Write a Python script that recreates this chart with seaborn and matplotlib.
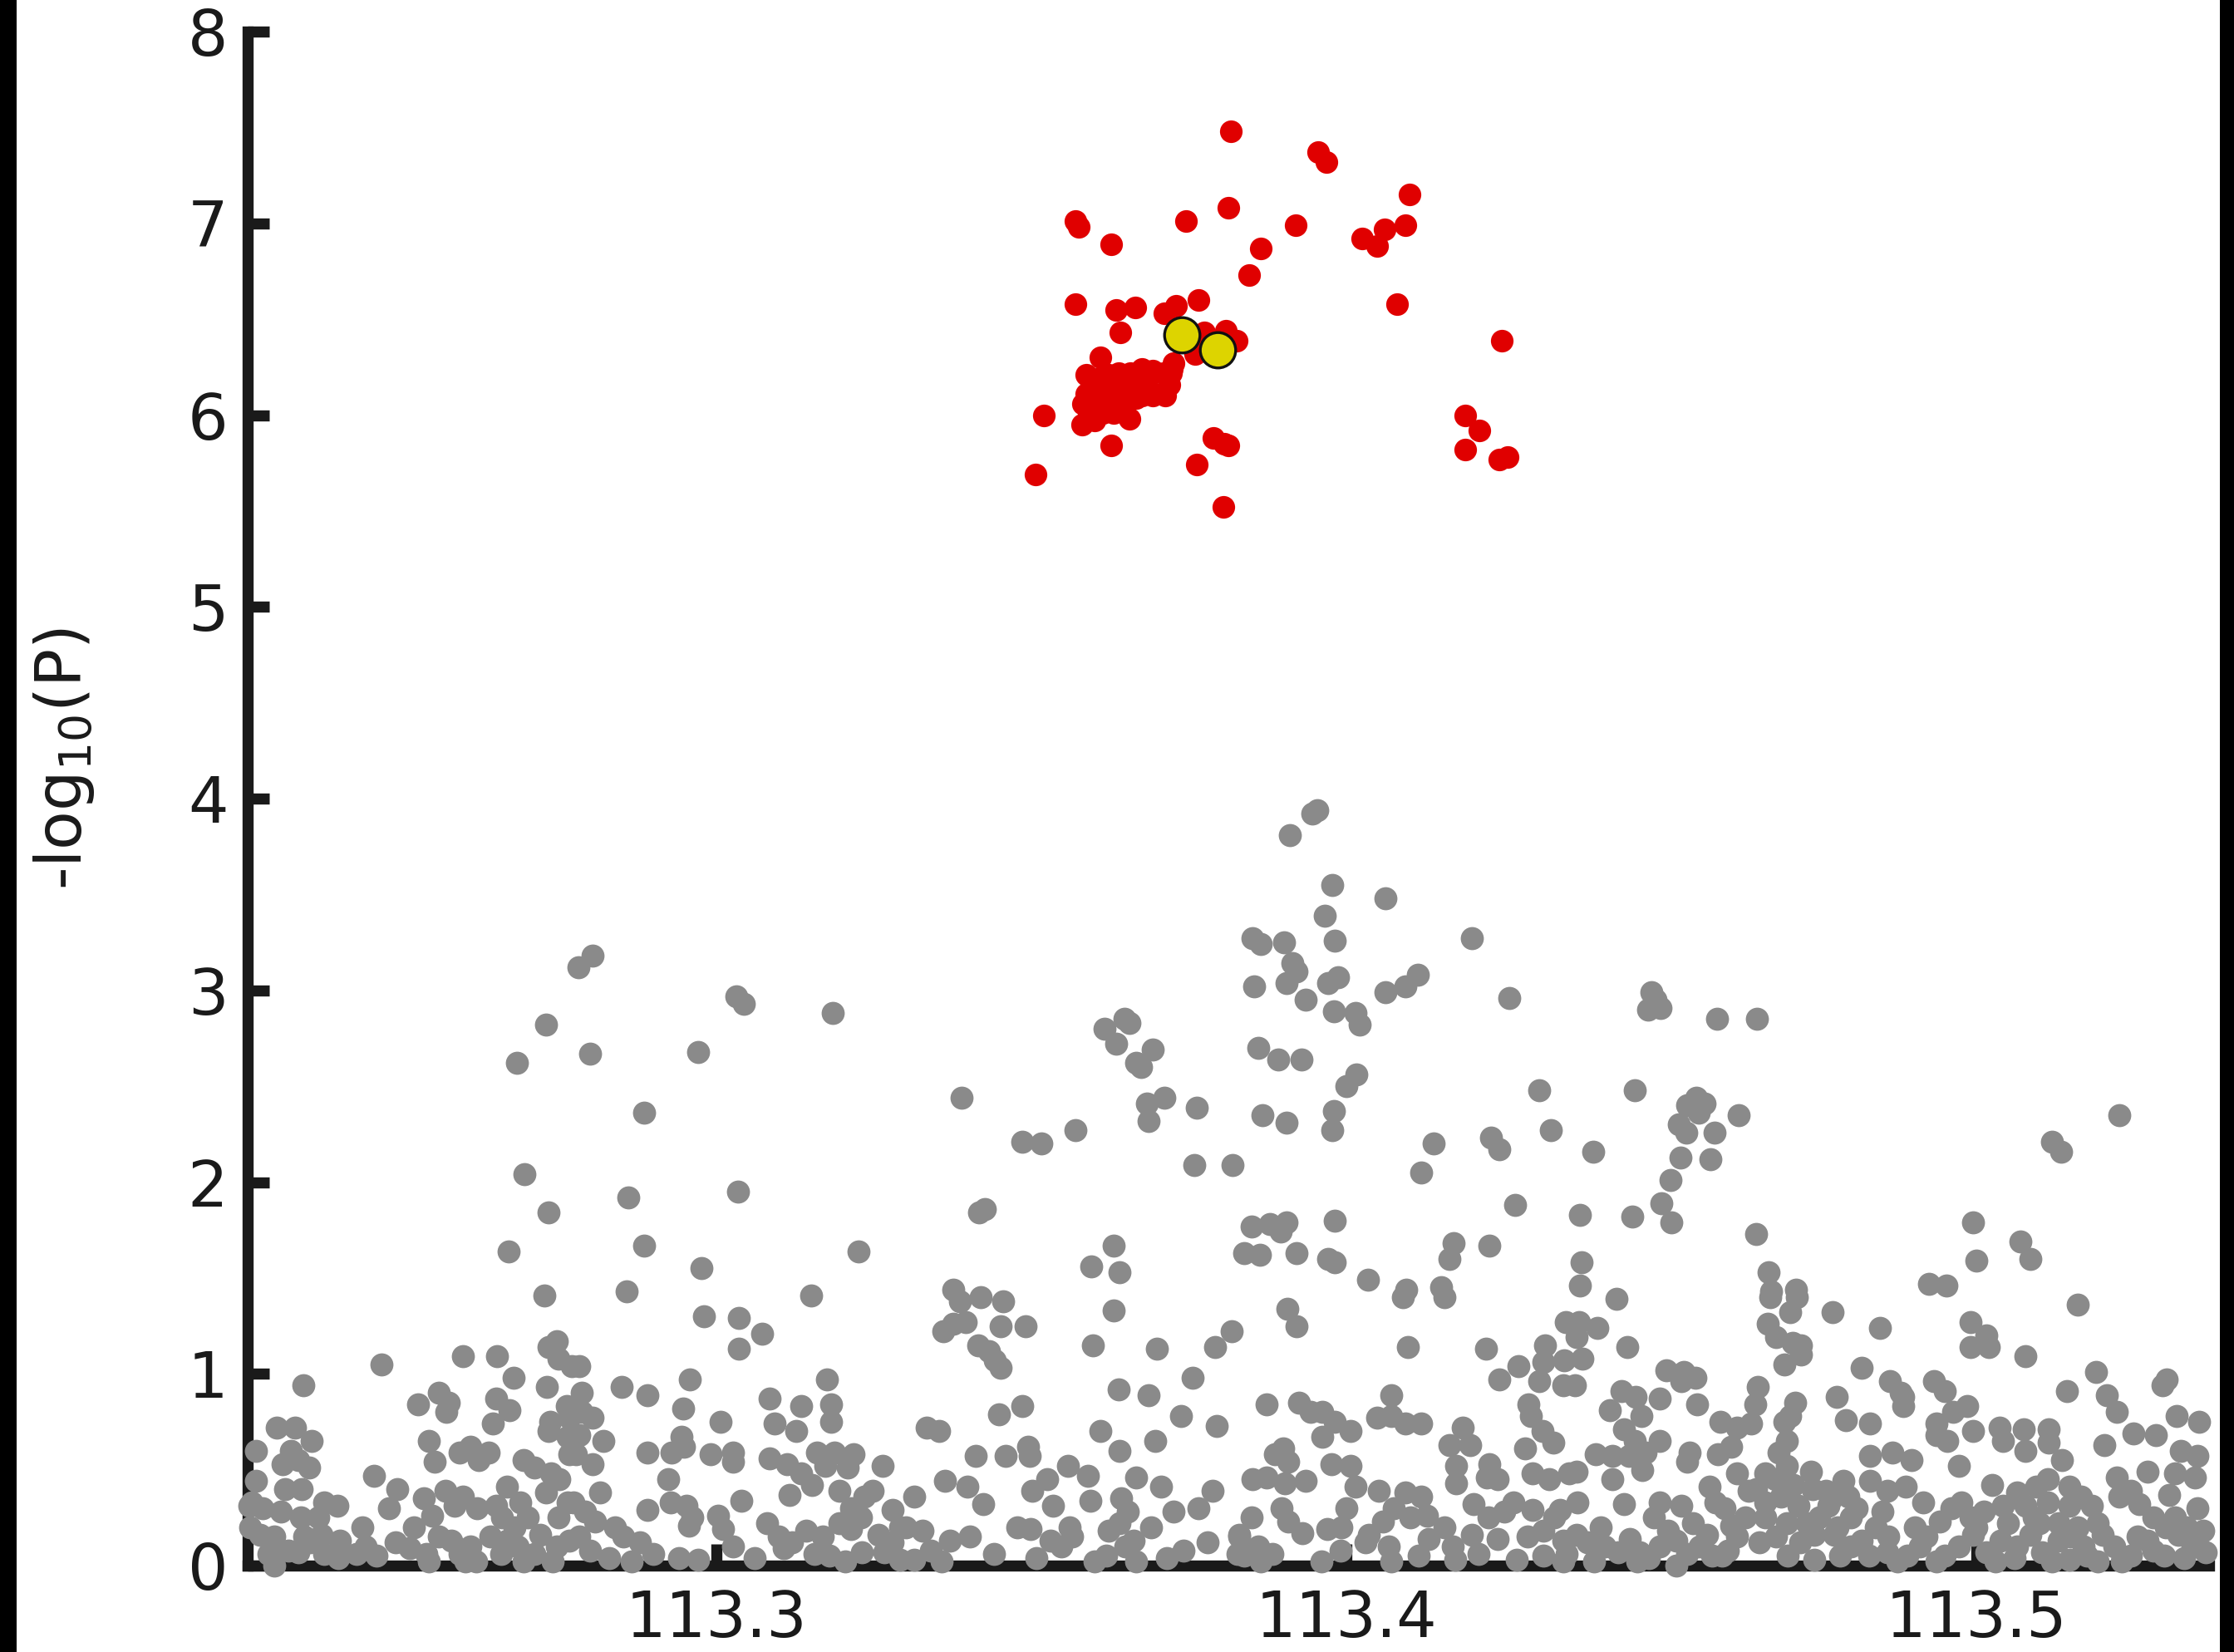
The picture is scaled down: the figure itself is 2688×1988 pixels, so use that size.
import matplotlib
matplotlib.use("Agg")
import matplotlib.pyplot as plt
import seaborn as sns
import pandas as pd
from matplotlib.patches import Rectangle

# ---------------- data: (position in Mb, -log10 P) ----------------
gray_high = [
    (113.2684, 2.62), (113.2695, 2.04), (113.2670, 1.64), (113.2727, 1.41), (113.2734, 1.84),
    (113.2729, 2.82), (113.2781, 3.12), (113.2804, 3.18), (113.2799, 2.67), (113.2885, 2.36),
    (113.2860, 1.92), (113.2885, 1.67), (113.2858, 1.43), (113.2971, 2.68), (113.3032, 2.97),
    (113.3043, 2.93), (113.3034, 1.95), (113.2976, 1.55), (113.3184, 2.88), (113.3225, 1.64),
    (113.3150, 1.41), (113.3389, 2.44), (113.3417, 1.84), (113.3426, 1.86), (113.3376, 1.44),
    (113.3485, 2.21), (113.3516, 2.20), (113.3570, 2.27), (113.3616, 2.80), (113.3647, 2.85),
    (113.3656, 2.83), (113.3634, 2.72), (113.3666, 2.62), (113.3693, 2.69), (113.3674, 2.60),
    (113.3683, 2.41), (113.3711, 2.44), (113.3763, 2.39), (113.3686, 2.32), (113.3595, 1.56),
    (113.3631, 1.67), (113.3640, 1.53), (113.3758, 2.09), (113.3819, 2.09), (113.3837, 1.63),
    (113.3862, 1.62), (113.3849, 1.77), (113.3878, 1.78), (113.3896, 1.74), (113.3905, 1.79),
    (113.3921, 1.63), (113.3851, 3.27), (113.3864, 3.24), (113.3901, 3.25), (113.3914, 3.14),
    (113.3921, 3.10), (113.3905, 3.04), (113.3853, 3.02), (113.3860, 2.70), (113.3892, 2.64),
    (113.3928, 2.64), (113.3867, 2.35), (113.3905, 2.31), (113.3946, 3.92), (113.3953, 3.94),
    (113.3910, 3.81), (113.3977, 3.55), (113.3966, 3.39), (113.3982, 3.26), (113.3987, 3.07),
    (113.3980, 2.89), (113.3935, 2.95), (113.4014, 2.88), (113.4021, 2.82), (113.3971, 3.04),
    (113.4000, 2.50), (113.4016, 2.56), (113.3980, 2.37), (113.3977, 2.27), (113.3982, 1.80),
    (113.3971, 1.60), (113.3982, 1.58), (113.4034, 1.49), (113.4118, 2.05), (113.4062, 3.48),
    (113.4062, 2.99), (113.4093, 3.02), (113.4113, 3.08), (113.4199, 3.27), (113.4258, 2.96),
    (113.4138, 2.20), (113.4163, 1.60), (113.4170, 1.68), (113.4150, 1.45), (113.4095, 1.44),
    (113.4229, 2.23), (113.4242, 2.17), (113.4267, 1.88), (113.4227, 1.67), (113.4306, 2.48),
    (113.4324, 2.27), (113.4391, 2.16), (113.4371, 1.83), (113.4373, 1.58), (113.4371, 1.46),
    (113.4457, 2.48), (113.4484, 2.99), (113.4491, 2.95), (113.4478, 2.90), (113.4498, 2.91),
    (113.4453, 1.82), (113.4516, 1.79), (113.4500, 1.89), (113.4514, 2.01), (113.4530, 2.13),
    (113.4539, 2.26), (113.4541, 2.40), (113.4555, 2.44), (113.4559, 2.36), (113.4527, 2.30),
    (113.4568, 2.41), (113.4577, 2.12), (113.4588, 2.85), (113.4652, 2.85), (113.4622, 2.35),
    (113.4584, 2.26), (113.4650, 1.73), (113.4670, 1.53), (113.4674, 1.43), (113.4713, 1.44),
    (113.4925, 1.47), (113.4952, 1.46), (113.4995, 1.79), (113.5000, 1.59), (113.5070, 1.69),
    (113.5086, 1.60), (113.5120, 2.21), (113.5134, 2.16), (113.5226, 2.35),
]

gray_band_a = [
    (113.2747, 1.17), (113.2733, 1.14), (113.2749, 1.08), (113.2771, 1.04), (113.2597, 1.09),
    (113.2652, 1.09), (113.2469, 1.05), (113.2345, 0.94), (113.2678, 0.98), (113.2731, 0.93),
    (113.2527, 0.84), (113.2560, 0.90), (113.2575, 0.85), (113.2571, 0.80), (113.2650, 0.87),
    (113.2672, 0.81), (113.2645, 0.74), (113.2736, 0.75), (113.2733, 0.70), (113.2762, 0.83),
    (113.2766, 0.77), (113.2764, 0.67), (113.2766, 0.58), (113.2302, 0.72), (113.2331, 0.72),
    (113.2357, 0.65), (113.2269, 0.60), (113.2324, 0.60), (113.2311, 0.53), (113.2337, 0.55),
    (113.2353, 0.51), (113.2544, 0.65), (113.2553, 0.54), (113.2593, 0.59), (113.2610, 0.62),
    (113.2623, 0.55), (113.2639, 0.59), (113.2456, 0.47), (113.2494, 0.40), (113.2269, 0.44),
    (113.2263, 0.33), (113.2258, 0.31), (113.2315, 0.40), (113.2342, 0.40), (113.2377, 0.33),
    (113.2399, 0.31), (113.2309, 0.28), (113.2535, 0.35), (113.2570, 0.39), (113.2597, 0.36),
    (113.2584, 0.31), (113.2549, 0.26), (113.2694, 0.55), (113.2711, 0.51), (113.2738, 0.48),
    (113.2751, 0.45), (113.2729, 0.38), (113.2667, 0.41), (113.2689, 0.33), (113.2650, 0.31),
    (113.2659, 0.25), (113.2749, 0.25), (113.2764, 0.33), (113.2368, 0.25), (113.2373, 0.16),
    (113.2355, 0.12), (113.2377, 0.06), (113.2276, 0.16), (113.2298, 0.15), (113.2289, 0.06),
    (113.2298, 0.00), (113.2403, 0.13), (113.2438, 0.20), (113.2443, 0.10), (113.2429, 0.06),
    (113.2491, 0.12), (113.2513, 0.09), (113.2540, 0.06), (113.2544, 0.02), (113.2579, 0.13),
    (113.2592, 0.06), (113.2601, 0.02), (113.2619, 0.02), (113.2610, 0.10), (113.2641, 0.15),
    (113.2658, 0.06), (113.2667, 0.13), (113.2685, 0.10), (113.2694, 0.02), (113.2720, 0.16),
    (113.2711, 0.06), (113.2747, 0.10), (113.2766, 0.13), (113.2346, 0.15), (113.2337, 0.07),
]

gray_band_b = [
    (113.2980, 1.30), (113.3035, 1.29), (113.3072, 1.21), (113.3036, 1.13), (113.2782, 1.04),
    (113.2850, 0.93), (113.2890, 0.89), (113.2958, 0.97), (113.2947, 0.82), (113.3006, 0.75),
    (113.3085, 0.87), (113.3134, 0.83), (113.3092, 0.74), (113.3127, 0.70), (113.3176, 0.97),
    (113.3182, 0.84), (113.3182, 0.75), (113.2786, 0.90), (113.2786, 0.80), (113.2804, 0.77),
    (113.2782, 0.68), (113.2777, 0.58), (113.2821, 0.65), (113.2804, 0.53), (113.2890, 0.59),
    (113.2945, 0.67), (113.2949, 0.62), (113.2929, 0.59), (113.2991, 0.58), (113.3026, 0.59),
    (113.3026, 0.54), (113.3085, 0.56), (113.3112, 0.53), (113.3134, 0.48), (113.3151, 0.42),
    (113.3116, 0.37), (113.3160, 0.59), (113.3187, 0.59), (113.3217, 0.58), (113.3173, 0.52),
    (113.3208, 0.51), (113.3264, 0.52), (113.2815, 0.38), (113.2923, 0.45), (113.2927, 0.33),
    (113.2953, 0.31), (113.2962, 0.25), (113.2956, 0.21), (113.2890, 0.29), (113.3039, 0.34),
    (113.2773, 0.33), (113.2791, 0.28), (113.2808, 0.23), (113.2782, 0.15), (113.2839, 0.20),
    (113.2852, 0.15), (113.2879, 0.12), (113.2830, 0.04), (113.2865, 0.02), (113.2940, 0.04),
    (113.2971, 0.03), (113.3002, 0.26), (113.3011, 0.19), (113.3026, 0.10), (113.3081, 0.22),
    (113.3099, 0.15), (113.3107, 0.09), (113.3143, 0.18), (113.3156, 0.06), (113.3169, 0.15),
    (113.3195, 0.39), (113.3213, 0.30), (113.3195, 0.22), (113.3213, 0.19), (113.3235, 0.36),
    (113.3248, 0.39), (113.3279, 0.29), (113.3257, 0.16), (113.3292, 0.20), (113.3204, 0.02),
    (113.3231, 0.07), (113.3266, 0.07), (113.3292, 0.03),
]

gray_band_c = [
    (113.3387, 1.38), (113.3420, 1.40), (113.3455, 1.38), (113.3360, 1.22), (113.3376, 1.26),
    (113.3396, 1.27), (113.3451, 1.25), (113.3490, 1.25), (113.3415, 1.15), (113.3433, 1.12),
    (113.3442, 1.07), (113.3451, 1.03), (113.3631, 1.33), (113.3598, 1.15), (113.3699, 1.13),
    (113.3792, 1.14), (113.3818, 1.22), (113.3756, 0.98), (113.3638, 0.92), (113.3686, 0.89),
    (113.3737, 0.78), (113.3794, 0.73), (113.3448, 0.79), (113.3486, 0.83), (113.3334, 0.72),
    (113.3354, 0.70), (113.3609, 0.70), (113.3697, 0.65), (113.3640, 0.60), (113.3411, 0.57),
    (113.3459, 0.57), (113.3495, 0.62), (113.3497, 0.57), (113.3558, 0.52), (113.3589, 0.47),
    (113.3666, 0.46), (113.3706, 0.41), (113.3787, 0.39), (113.3363, 0.44), (113.3398, 0.41),
    (113.3424, 0.32), (113.3314, 0.36), (113.3501, 0.39), (113.3525, 0.45), (113.3534, 0.31),
    (113.3594, 0.34), (113.3642, 0.35), (113.3653, 0.28), (113.3726, 0.28), (113.3765, 0.30),
    (113.3402, 0.15), (113.3371, 0.13), (113.3358, 0.02), (113.3314, 0.03), (113.3327, 0.18),
    (113.3301, 0.20), (113.3477, 0.20), (113.3499, 0.19), (113.3530, 0.13), (113.3547, 0.10),
    (113.3508, 0.04), (113.3561, 0.20), (113.3565, 0.15), (113.3622, 0.18), (113.3640, 0.22),
    (113.3618, 0.05), (113.3649, 0.10), (113.3666, 0.02), (113.3662, 0.13), (113.3715, 0.04),
    (113.3741, 0.08), (113.3829, 0.16), (113.3827, 0.06),
]

gray_band_d = [
    (113.3906, 1.34), (113.3921, 1.25), (113.4089, 1.40), (113.4155, 1.40), (113.4097, 1.14),
    (113.4221, 1.13), (113.4243, 0.97), (113.4273, 1.04), (113.4315, 1.15), (113.4313, 1.06),
    (113.4306, 0.96), (113.4348, 1.27), (113.4346, 1.07), (113.4344, 0.94), (113.3873, 0.84),
    (113.3924, 0.85), (113.3943, 0.80), (113.3961, 0.80), (113.3981, 0.75), (113.3961, 0.67),
    (113.4007, 0.70), (113.4071, 0.89), (113.4049, 0.77), (113.4071, 0.78), (113.4093, 0.74),
    (113.4119, 0.74), (113.4185, 0.72), (113.4163, 0.63), (113.4196, 0.63), (113.4289, 0.84),
    (113.4293, 0.78), (113.4311, 0.70), (113.4328, 0.64), (113.4284, 0.61), (113.3899, 0.61),
    (113.3886, 0.58), (113.3908, 0.54), (113.3851, 0.45), (113.3873, 0.46), (113.3902, 0.43),
    (113.3935, 0.44), (113.3976, 0.53), (113.4007, 0.52), (113.4014, 0.41), (113.4051, 0.39),
    (113.4174, 0.52), (113.4174, 0.43), (113.4227, 0.53), (113.4223, 0.46), (113.4240, 0.45),
    (113.4295, 0.48), (113.4322, 0.45), (113.4353, 0.48), (113.4339, 0.29), (113.4093, 0.38),
    (113.4119, 0.36), (113.4128, 0.26), (113.4102, 0.25), (113.4075, 0.30), (113.3897, 0.30),
    (113.3908, 0.23), (113.3930, 0.17), (113.3849, 0.25), (113.3970, 0.19), (113.3992, 0.20),
    (113.3990, 0.08), (113.4036, 0.16), (113.4058, 0.23), (113.4067, 0.10), (113.4071, 0.02),
    (113.4115, 0.05), (113.4155, 0.20), (113.4168, 0.10), (113.4172, 0.03), (113.4201, 0.32),
    (113.4199, 0.16), (113.4225, 0.25), (113.4251, 0.28), (113.4265, 0.33), (113.4295, 0.29),
    (113.4287, 0.15), (113.4313, 0.18), (113.4313, 0.05), (113.4344, 0.13), (113.4344, 0.02),
    (113.3864, 0.02), (113.3838, 0.05), (113.3882, 0.06), (113.3829, 0.15),
]

gray_band_e = [
    (113.4429, 1.39), (113.4673, 1.40), (113.4715, 1.40), (113.4369, 1.27), (113.4398, 1.24),
    (113.4365, 1.19), (113.4446, 1.14), (113.4704, 1.32), (113.4668, 1.26), (113.4682, 1.19),
    (113.4708, 1.16), (113.4721, 1.15), (113.4721, 1.10), (113.4695, 1.05), (113.4772, 1.32),
    (113.4847, 1.24), (113.4818, 1.03), (113.4862, 0.96), (113.4880, 0.90), (113.4374, 1.08),
    (113.4363, 0.94), (113.4508, 1.02), (113.4536, 1.01), (113.4554, 0.98), (113.4532, 0.96),
    (113.4437, 0.91), (113.4459, 0.88), (113.4497, 0.87), (113.4468, 0.78), (113.4418, 0.81),
    (113.4556, 0.84), (113.4653, 0.93), (113.4649, 0.84), (113.4712, 0.85), (113.4704, 0.78),
    (113.4778, 0.88), (113.4792, 0.76), (113.4831, 0.74), (113.4440, 0.71), (113.4457, 0.65),
    (113.4497, 0.65), (113.4475, 0.59), (113.4396, 0.58), (113.4422, 0.57), (113.4448, 0.57),
    (113.4470, 0.50), (113.4365, 0.49), (113.4422, 0.45), (113.4440, 0.32), (113.4367, 0.33),
    (113.4545, 0.59), (113.4541, 0.54), (113.4594, 0.75), (113.4620, 0.72), (113.4642, 0.74),
    (113.4589, 0.58), (113.4611, 0.62), (113.4695, 0.75), (113.4699, 0.65), (113.4686, 0.59),
    (113.4699, 0.52), (113.4664, 0.48), (113.4620, 0.48), (113.4638, 0.39), (113.4664, 0.33),
    (113.4690, 0.36), (113.4737, 0.49), (113.4761, 0.39), (113.4789, 0.44), (113.4831, 0.57),
    (113.4866, 0.59), (113.4831, 0.44), (113.4858, 0.39), (113.4576, 0.41), (113.4585, 0.33),
    (113.4532, 0.31), (113.4497, 0.33), (113.4488, 0.25), (113.4404, 0.20), (113.4365, 0.16),
    (113.4382, 0.12), (113.4393, 0.02), (113.4431, 0.07), (113.4466, 0.07), (113.4497, 0.10),
    (113.4523, 0.13), (113.4541, 0.06), (113.4523, 0.00), (113.4462, 0.02), (113.4572, 0.16),
    (113.4580, 0.05), (113.4596, 0.05), (113.4611, 0.21), (113.4633, 0.25), (113.4620, 0.15),
    (113.4664, 0.25), (113.4682, 0.15), (113.4699, 0.22), (113.4717, 0.31), (113.4730, 0.22),
    (113.4743, 0.16), (113.4743, 0.03), (113.4774, 0.16), (113.4783, 0.05), (113.4800, 0.25),
    (113.4818, 0.13), (113.4840, 0.20), (113.4858, 0.07), (113.4875, 0.02), (113.4765, 0.31),
    (113.4796, 0.36),
]

gray_band_f = [
    (113.5161, 1.36), (113.4990, 1.27), (113.5016, 1.20), (113.4990, 1.14), (113.5020, 1.14),
    (113.5078, 1.09), (113.5190, 1.01), (113.5144, 0.91), (113.5302, 0.97), (113.5295, 0.94),
    (113.4932, 0.96), (113.4950, 0.91), (113.4884, 0.88), (113.4884, 0.83), (113.4985, 0.83),
    (113.4963, 0.80), (113.4937, 0.74), (113.4937, 0.68), (113.4954, 0.65), (113.4994, 0.70),
    (113.5036, 0.72), (113.5042, 0.65), (113.5075, 0.71), (113.5078, 0.60), (113.5115, 0.71),
    (113.5115, 0.64), (113.5135, 0.55), (113.5207, 0.89), (113.5223, 0.80), (113.5203, 0.63),
    (113.5249, 0.69), (113.5284, 0.68), (113.5317, 0.78), (113.5353, 0.75), (113.5324, 0.60),
    (113.5350, 0.57), (113.5346, 0.46), (113.5315, 0.48), (113.5306, 0.37), (113.5271, 0.49),
    (113.4897, 0.55), (113.4972, 0.52), (113.4888, 0.41), (113.4915, 0.33), (113.5025, 0.42),
    (113.5064, 0.38), (113.5095, 0.41), (113.5113, 0.45), (113.5148, 0.41), (113.5166, 0.36),
    (113.5223, 0.46), (113.5245, 0.39), (113.5258, 0.32), (113.5280, 0.25), (113.5227, 0.36),
    (113.4976, 0.33), (113.4941, 0.23), (113.4990, 0.25), (113.5012, 0.28), (113.5042, 0.31),
    (113.5078, 0.31), (113.5113, 0.33), (113.5148, 0.31), (113.5183, 0.31), (113.4902, 0.20),
    (113.4910, 0.10), (113.4937, 0.02), (113.4972, 0.10), (113.4994, 0.16), (113.5016, 0.07),
    (113.5038, 0.13), (113.5064, 0.10), (113.5086, 0.16), (113.5104, 0.07), (113.5130, 0.13),
    (113.5148, 0.03), (113.5170, 0.10), (113.5192, 0.02), (113.5218, 0.10), (113.5245, 0.05),
    (113.5271, 0.13), (113.5298, 0.05), (113.5320, 0.16), (113.5342, 0.10), (113.5364, 0.07),
    (113.5315, 0.25), (113.5333, 0.20), (113.5130, 0.22), (113.5161, 0.20), (113.5192, 0.22),
    (113.5091, 0.25),
]

gray_band_dense = [
    (113.4410, 0.10), (113.4450, 0.14), (113.4480, 0.04), (113.4510, 0.18), (113.4550, 0.22),
    (113.4560, 0.10), (113.4600, 0.30), (113.4605, 0.08), (113.4650, 0.40), (113.4655, 0.12),
    (113.4680, 0.45), (113.4700, 0.05), (113.4710, 0.42), (113.4720, 0.12), (113.4740, 0.40),
    (113.4750, 0.25), (113.4770, 0.35), (113.4780, 0.20), (113.4800, 0.10), (113.4810, 0.30),
    (113.4830, 0.05), (113.4850, 0.28), (113.4860, 0.15), (113.4890, 0.05), (113.4920, 0.15),
    (113.4950, 0.05), (113.4960, 0.30), (113.5000, 0.20), (113.5030, 0.02), (113.5050, 0.22),
    (113.5060, 0.04), (113.5100, 0.22), (113.5120, 0.02), (113.5150, 0.15), (113.5175, 0.05),
    (113.5200, 0.16), (113.5230, 0.02), (113.5255, 0.15), (113.5280, 0.08), (113.5300, 0.20),
    (113.5330, 0.04), (113.5350, 0.30), (113.5360, 0.18),
    (113.2260, 0.20), (113.2280, 0.30), (113.2320, 0.08), (113.2340, 0.25), (113.2400, 0.04),
    (113.2460, 0.05), (113.2480, 0.30), (113.2520, 0.20), (113.2560, 0.15), (113.2620, 0.30),
    (113.2680, 0.20), (113.2700, 0.25), (113.2740, 0.02), (113.2800, 0.08), (113.2900, 0.06),
    (113.3060, 0.04), (113.3120, 0.12), (113.3180, 0.05), (113.3230, 0.25), (113.3280, 0.12),
    (113.3340, 0.08), (113.3440, 0.06), (113.3600, 0.02), (113.3690, 0.20), (113.3780, 0.12),
    (113.3860, 0.10), (113.3960, 0.02), (113.4000, 0.30), (113.4030, 0.12), (113.4130, 0.14),
    (113.4210, 0.06), (113.4240, 0.14), (113.4270, 0.03), (113.4330, 0.25), (113.4350, 0.06),
]

red_snps = [
    (113.3817, 7.48), (113.3955, 7.37), (113.3968, 7.32), (113.4100, 7.15), (113.3570, 7.01),
    (113.3575, 6.98), (113.3745, 7.01), (113.3813, 7.08), (113.3919, 6.99), (113.3627, 6.89),
    (113.4025, 6.92), (113.4048, 6.88), (113.4061, 6.97), (113.4093, 6.99), (113.3864, 6.87),
    (113.3846, 6.73), (113.3570, 6.58), (113.3634, 6.55), (113.3665, 6.56), (113.3765, 6.60),
    (113.3729, 6.57), (113.3711, 6.53), (113.4080, 6.58), (113.4247, 6.39), (113.3641, 6.43),
    (113.3774, 6.43), (113.3808, 6.44), (113.3826, 6.39), (113.3763, 6.33), (113.3722, 6.22),
    (113.3723, 6.24), (113.3760, 6.32),
    (113.3609, 6.30), (113.3587, 6.21), (113.3604, 6.19), (113.3622, 6.21), (113.3639, 6.22),
    (113.3657, 6.22), (113.3675, 6.24), (113.3692, 6.23), (113.3710, 6.22), (113.3719, 6.16),
    (113.3712, 6.10), (113.3692, 6.10), (113.3675, 6.10), (113.3657, 6.11), (113.3639, 6.13),
    (113.3622, 6.14), (113.3604, 6.13), (113.3587, 6.11), (113.3582, 6.06), (113.3600, 6.04),
    (113.3617, 6.04), (113.3635, 6.06), (113.3653, 6.07), (113.3666, 6.09), (113.3591, 6.01),
    (113.3613, 6.01), (113.3631, 6.01), (113.3655, 5.98), (113.3580, 5.95), (113.3683, 6.16),
    (113.3666, 6.17), (113.3648, 6.17), (113.3631, 6.17), (113.3613, 6.17), (113.3595, 6.16),
    (113.3725, 6.27),
    (113.3520, 6.00), (113.3626, 5.84), (113.3507, 5.69), (113.3763, 5.74), (113.3789, 5.88),
    (113.3806, 5.85), (113.3812, 5.84), (113.3804, 5.52), (113.3600, 5.97),
    (113.4188, 6.00), (113.4211, 5.92), (113.4188, 5.82), (113.4242, 5.77), (113.4256, 5.78),
]

lead_snps = [(113.3738, 6.42), (113.3796, 6.34)]

x_ticks = [113.3, 113.4, 113.5]
x_tick_labels = ["113.3", "113.4", "113.5"]
y_ticks = [0, 1, 2, 3, 4, 5, 6, 7, 8]

# ---------------- styling ----------------
sns.set_theme(style="white")
plt.rcParams["font.family"] = ["DejaVu Sans"]

W, H, DPI = 2688, 1988, 200
fig = plt.figure(figsize=(W / DPI, H / DPI), dpi=DPI)
fig.patch.set_facecolor("white")
ax = fig.add_axes([298 / W, 104 / H, 2360 / W, 1846 / H])
ax.set_facecolor("white")

gray_df = pd.DataFrame(gray_high + gray_band_a + gray_band_b + gray_band_c +
                       gray_band_d + gray_band_e + gray_band_f + gray_band_dense,
                       columns=["pos", "logp"])
red_df = pd.DataFrame(red_snps, columns=["pos", "logp"])
lead_df = pd.DataFrame(lead_snps, columns=["pos", "logp"])

sns.scatterplot(data=gray_df, x="pos", y="logp", color="#8a8a8a", s=100,
                linewidth=0, ax=ax, clip_on=False, zorder=3, legend=False)
sns.scatterplot(data=red_df, x="pos", y="logp", color="#e00000", s=96,
                linewidth=0, ax=ax, clip_on=False, zorder=4, legend=False)
sns.scatterplot(data=lead_df, x="pos", y="logp", color="#ddd400", s=235,
                edgecolor="#111111", linewidth=1.2, ax=ax, clip_on=False, zorder=5,
                legend=False)

ax.set_xlim(113.2256, 113.5369)
ax.set_ylim(0, 8)
ax.set_xticks(x_ticks)
ax.set_xticklabels(x_tick_labels)
ax.set_yticks(y_ticks)

for s in ["top", "right"]:
    ax.spines[s].set_visible(False)
for s in ["left", "bottom"]:
    ax.spines[s].set_linewidth(4.8)
    ax.spines[s].set_color("#1a1a1a")
    ax.spines[s].set_zorder(2.5)

ax.tick_params(direction="in", length=9.5, width=4.8, color="#1a1a1a",
               labelsize=27.5, labelcolor="#1a1a1a")
ax.tick_params(axis="y", pad=8.5, left=True)
ax.tick_params(axis="x", pad=10, bottom=True)

ax.set_xlabel("")
ax.set_ylabel("-log$_{10}$(P)", fontsize=27.5, color="#1a1a1a", va="center")
ax.yaxis.set_label_coords(-0.0936, 0.526)

# black borders at the image sides
fig.patches.append(Rectangle((0, 0), 20 / W, 1, transform=fig.transFigure,
                             facecolor="black", edgecolor="none", zorder=10))
fig.patches.append(Rectangle((2671 / W, 0), 17 / W, 1, transform=fig.transFigure,
                             facecolor="black", edgecolor="none", zorder=10))

fig.savefig("out.png", dpi=DPI)
